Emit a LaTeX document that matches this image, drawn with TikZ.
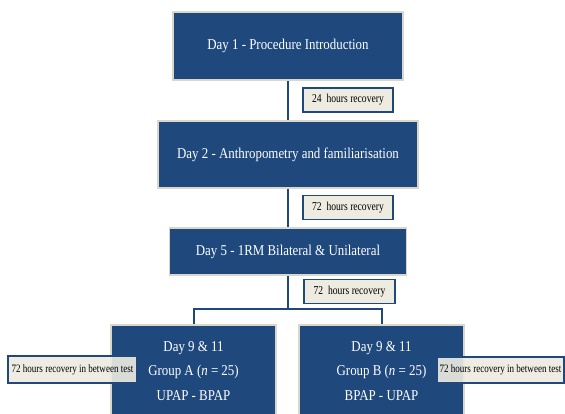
\documentclass[tikz,border=0pt]{standalone}
\usepackage{fontspec}
\setmainfont{Liberation Serif}
\newfontfamily\boxfont{Liberation Serif}[FakeStretch=0.86]
\newfontfamily\tagfont{Liberation Serif}[FakeStretch=0.80]
\usetikzlibrary{positioning}
\definecolor{dayblue}{HTML}{1F497D}
\definecolor{dayrim}{HTML}{D9D6CC}
\definecolor{tagfill}{HTML}{EEECE1}

\begin{document}
\begin{tikzpicture}[
    x=1pt,y=-1pt,
    day/.style={draw=dayrim,line width=1.5pt,fill=dayblue,text=white,inner sep=0pt,
      font=\boxfont\fontsize{15}{24.5}\selectfont,align=center},
    tag/.style={draw=dayblue,line width=1.8pt,fill=tagfill,text=black,inner sep=0pt,
      minimum height=24pt,font=\tagfont\fontsize{12}{14}\selectfont,align=center},
    sidetag/.style={tag,fill opacity=0.9,text opacity=1,font=\tagfont\fontsize{11.3}{13}\selectfont},
    conn/.style={draw=dayblue,line width=2pt}
  ]
    \clip (0,0) rectangle (565,414);
    \fill[white] (0,0) rectangle (565,414);
    % timeline
    \node[day,minimum width=230pt,minimum height=68pt] (d1) at (288,46) {Day 1 - Procedure Introduction};
    \node[day,minimum width=260pt,minimum height=67pt] (d2) at (288,154.5) {Day 2 - Anthropometry and familiarisation};
    \node[day,minimum width=237pt,minimum height=47pt] (d5) at (288,251.5) {Day 5 - 1RM Bilateral \& Unilateral};
    \coordinate (split) at (288,309);
    \node[day,minimum width=165pt,minimum height=92pt,anchor=north] (gA) at (193.5,324)
      {Day 9 \& 11\\Group A (\textit{n} = 25)\\UPAP - BPAP};
    \node[day,minimum width=165pt,minimum height=92pt,anchor=north] (gB) at (381.5,324)
      {Day 9 \& 11\\Group B (\textit{n} = 25)\\BPAP - UPAP};
    \foreach \a/\b in {d1/d2,d2/d5}
      \draw[conn] (\a) -- (\b);
    \draw[conn] (d5) -- (split);
    \draw[conn] (gA.north) |- (split) -| (gB.north);
    % recovery tags
    \node[tag,minimum width=90pt] (r1) at (348,100) {24\ \ hours recovery};
    \node[tag,minimum width=90pt] (r2) at (348,207.5) {72\ \ hours recovery};
    \node[tag,minimum width=91pt] (r3) at (349.5,291.5) {72\ \ hours recovery};
    \node[sidetag,minimum width=129pt,minimum height=27pt] (sA) at (72.5,369.5) {72 hours recovery in between test};
    \node[sidetag,minimum width=127pt,minimum height=26pt] (sB) at (500.5,370) {72 hours recovery in between test};
  \end{tikzpicture}
\end{document}
